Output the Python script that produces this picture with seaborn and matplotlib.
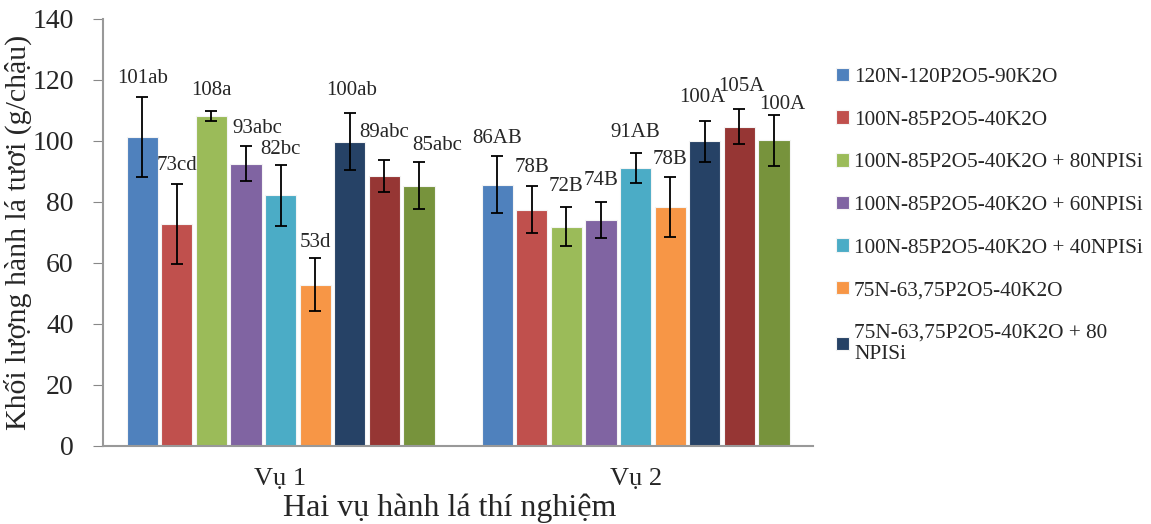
import matplotlib
matplotlib.use("Agg")
import matplotlib.pyplot as plt
import numpy as np
import pandas as pd
import seaborn as sns

# ── Data ──────────────────────────────────────────────────────────────────────
seasons = ["Vụ 1", "Vụ 2"]
treatments = [
    "120N-120P2O5-90K2O",
    "100N-85P2O5-40K2O",
    "100N-85P2O5-40K2O + 80NPISi",
    "100N-85P2O5-40K2O + 60NPISi",
    "100N-85P2O5-40K2O + 40NPISi",
    "75N-63,75P2O5-40K2O",
    "75N-63,75P2O5-40K2O + 80\nNPISi",
    "75N-63,75P2O5-40K2O + 60NPISi",
    "75N-63,75P2O5-40K2O + 40NPISi",
]
vu1_mean = [101.3, 72.7, 108.1, 92.5, 82.2, 52.9, 99.7, 88.6, 85.3]
vu2_mean = [85.7, 77.5, 71.8, 74.0, 91.0, 78.2, 99.9, 104.7, 100.2]
vu1_err = [13.0, 13.1, 1.7, 5.7, 10.0, 8.8, 9.3, 5.2, 7.7]
vu2_err = [9.2, 7.8, 6.4, 6.0, 4.9, 9.8, 6.7, 5.6, 8.3]
vu1_labels = ["101ab", "73cd", "108a", "93abc", "82bc", "53d", "100ab", "89abc", "85abc"]
vu2_labels = ["86AB", "78B", "72B", "74B", "91AB", "78B", "100A", "105A", "100A"]

colors = ["#4F81BD", "#C0504D", "#9BBB59", "#8064A2", "#4BACC6",
          "#F79646", "#264266", "#963634", "#77933C"]

df = pd.DataFrame({
    "season": np.repeat(seasons, len(treatments)),
    "treatment": treatments * 2,
    "value": vu1_mean + vu2_mean,
    "err": vu1_err + vu2_err,
    "label": vu1_labels + vu2_labels,
})

# hand-placed labels in the original (dx in points, dy in data units)
label_nudge = {
    ("Vụ 1", 2): (0, 0.7),
    ("Vụ 1", 3): (8, 0),
    ("Vụ 1", 4): (0, -1),
    ("Vụ 1", 5): (0, -1),
    ("Vụ 1", 6): (1, 1.5),
    ("Vụ 1", 7): (0, 3),
    ("Vụ 1", 8): (13, -0.5),
    ("Vụ 2", 2): (0, 0.7),
    ("Vụ 2", 3): (0, 0.9),
    ("Vụ 2", 4): (0, 0.8),
    ("Vụ 2", 6): (-2, 1.5),
    ("Vụ 2", 7): (1.5, 1.5),
    ("Vụ 2", 8): (6, -2.5),
}

# ── Chart ─────────────────────────────────────────────────────────────────────
sns.set_style("white")
plt.rcParams["font.family"] = ["Liberation Serif", "DejaVu Serif"]

fig = plt.figure(figsize=(11.51, 5.24), dpi=100)
ax = fig.add_axes([0.0895, 0.149, 0.617, 0.815])

sns.barplot(
    data=df, x="season", y="value", hue="treatment",
    hue_order=treatments, palette=colors, order=seasons,
    width=0.877, gap=0.1, errorbar=None, saturation=1,
    edgecolor="#f4f4f4", linewidth=0.8, ax=ax,
)

# error bars + letter labels, one bar container per treatment
bar_containers = list(ax.containers)
for i, cont in enumerate(bar_containers):
    for j, bar in enumerate(cont):
        row = df[(df["treatment"] == treatments[i]) & (df["season"] == seasons[j])].iloc[0]
        xc = bar.get_x() + bar.get_width() / 2
        ax.errorbar(xc, row["value"], yerr=row["err"], fmt="none",
                    ecolor="black", elinewidth=1.3, capsize=4, capthick=1.3, zorder=4)
        dx, dy = label_nudge.get((seasons[j], i), (0, 0))
        ax.annotate(row["label"], (xc, row["value"] + row["err"] + 6 + dy),
                    xytext=(dx, 0), textcoords="offset points",
                    ha="center", va="center", fontsize=15, zorder=5)

ax.set_ylim(0, 140)
ax.set_yticks(range(0, 141, 20))
ax.set_xlim(-0.5, 1.5)
ax.set_ylabel("Khối lượng hành lá tươi (g/chậu)", fontsize=21.5)
ax.yaxis.set_label_coords(-0.1, 0.5)
ax.set_xlabel("Hai vụ hành lá thí nghiệm", fontsize=23)
ax.xaxis.set_label_coords(0.488, -0.112)
ax.tick_params(axis="y", labelsize=20, length=7, color="#888888",
               direction="out", left=True, pad=14)
ax.tick_params(axis="x", labelsize=19, length=0, pad=16)

for side in ["top", "right"]:
    ax.spines[side].set_visible(False)
for side in ["left", "bottom"]:
    ax.spines[side].set_color("#999999")
    ax.spines[side].set_linewidth(1.5)

# legend: only the first seven entries are visible in the reference
handles, labels = ax.get_legend_handles_labels()
leg = ax.legend(
    handles[:7], labels[:7],
    loc="upper left", bbox_to_anchor=(1.005, 0.93),
    frameon=False, fontsize=15.3,
    handlelength=0.6, handleheight=0.6, handletextpad=0.25,
    labelspacing=1.1,
)

plt.savefig("out.png", dpi=100)
plt.close()
